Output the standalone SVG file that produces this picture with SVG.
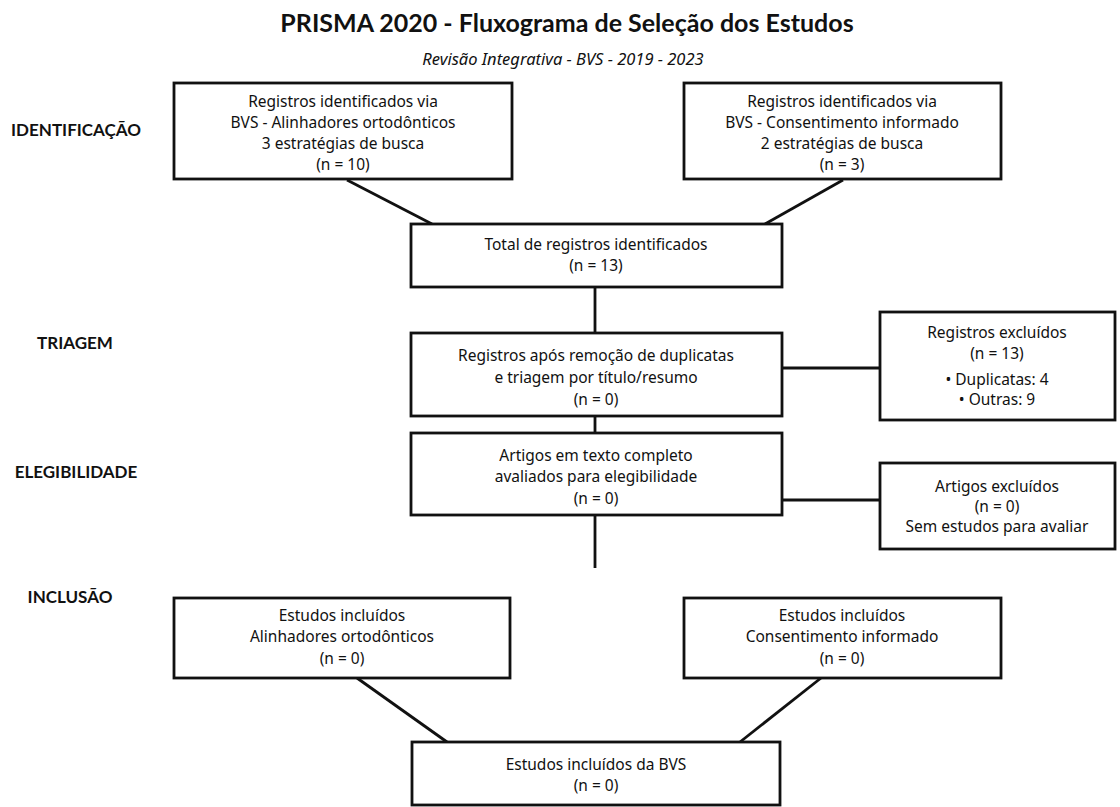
<svg xmlns="http://www.w3.org/2000/svg" width="1120" height="807" viewBox="0 0 1120 807">
<style>
.box{fill:#fff;stroke:#111;stroke-width:2.8}
.t{font-family:"Noto Sans",sans-serif;font-size:15.5px;fill:#111;text-anchor:middle}
.lab{font-family:Lato,"Noto Sans",sans-serif;font-size:17px;font-weight:bold;fill:#111;text-anchor:middle}
.ln{stroke:#111;stroke-width:2.8;fill:none}
</style>
<rect width="1120" height="807" fill="#fff"/>
<text x="567" y="32" font-family="Lato, Noto Sans, sans-serif" font-size="25" font-weight="bold" fill="#111" text-anchor="middle">PRISMA 2020 - Fluxograma de Seleção dos Estudos</text>
<text x="563" y="65" font-family="Noto Sans, sans-serif" font-size="16.5" font-style="italic" fill="#111" text-anchor="middle">Revisão Integrativa - BVS - 2019 - 2023</text>
<g id="labels">
<text class="lab" x="76" y="136">IDENTIFICAÇÃO</text>
<text class="lab" x="75" y="349">TRIAGEM</text>
<text class="lab" x="76" y="478">ELEGIBILIDADE</text>
<text class="lab" x="70" y="603">INCLUSÃO</text>
</g>
<g id="connectors">
<line class="ln" x1="347" y1="180" x2="432" y2="224"/>
<line class="ln" x1="843" y1="180" x2="765" y2="224"/>
<line class="ln" x1="595" y1="287" x2="595" y2="333"/>
<line class="ln" x1="595" y1="416" x2="595" y2="433"/>
<line class="ln" x1="782" y1="368" x2="880" y2="368"/>
<line class="ln" x1="782" y1="500" x2="880" y2="500"/>
<line class="ln" x1="595" y1="515" x2="595" y2="568"/>
<line class="ln" x1="357" y1="678" x2="447" y2="742"/>
<line class="ln" x1="821" y1="678" x2="740" y2="742"/>
</g>
<g id="n1">
<rect class="box" x="174" y="83" width="338" height="96"/>
<text class="t" x="343" y="107">Registros identificados via</text>
<text class="t" x="343" y="128">BVS - Alinhadores ortodônticos</text>
<text class="t" x="343" y="149">3 estratégias de busca</text>
<text class="t" x="343" y="170">(n = 10)</text>
</g>
<g id="n2">
<rect class="box" x="684" y="83" width="317" height="96"/>
<text class="t" x="842" y="107">Registros identificados via</text>
<text class="t" x="842" y="128">BVS - Consentimento informado</text>
<text class="t" x="842" y="149">2 estratégias de busca</text>
<text class="t" x="842" y="170">(n = 3)</text>
</g>
<g id="n3">
<rect class="box" x="411" y="224" width="371" height="63"/>
<text class="t" x="596" y="250">Total de registros identificados</text>
<text class="t" x="596" y="271">(n = 13)</text>
</g>
<g id="n4">
<rect class="box" x="411" y="333" width="371" height="83"/>
<text class="t" x="596" y="361">Registros  após remoção de duplicatas</text>
<text class="t" x="596" y="383">e triagem por título/resumo</text>
<text class="t" x="596" y="405">(n = 0)</text>
</g>
<g id="n5">
<rect class="box" x="880" y="312" width="235" height="108"/>
<text class="t" x="997" y="338">Registros excluídos</text>
<text class="t" x="997" y="359">(n = 13)</text>
<text class="t" x="997" y="385">• Duplicatas: 4</text>
<text class="t" x="997" y="405">• Outras: 9</text>
</g>
<g id="n6">
<rect class="box" x="411" y="433" width="371" height="82"/>
<text class="t" x="596" y="461">Artigos em texto completo</text>
<text class="t" x="596" y="482">avaliados para elegibilidade</text>
<text class="t" x="596" y="504">(n = 0)</text>
</g>
<g id="n7">
<rect class="box" x="880" y="463" width="235" height="86"/>
<text class="t" x="997" y="492">Artigos excluídos</text>
<text class="t" x="997" y="512">(n = 0)</text>
<text class="t" x="997" y="532">Sem estudos para avaliar</text>
</g>
<g id="n8">
<rect class="box" x="174" y="598" width="336" height="80"/>
<text class="t" x="342" y="621">Estudos incluídos</text>
<text class="t" x="342" y="642">Alinhadores ortodônticos</text>
<text class="t" x="342" y="664">(n = 0)</text>
</g>
<g id="n9">
<rect class="box" x="684" y="598" width="317" height="80"/>
<text class="t" x="842" y="621">Estudos incluídos</text>
<text class="t" x="842" y="642">Consentimento informado</text>
<text class="t" x="842" y="664">(n = 0)</text>
</g>
<g id="n10">
<rect class="box" x="412" y="742" width="368" height="63"/>
<text class="t" x="596" y="770">Estudos incluídos da BVS</text>
<text class="t" x="596" y="791">(n = 0)</text>
</g>
</svg>
